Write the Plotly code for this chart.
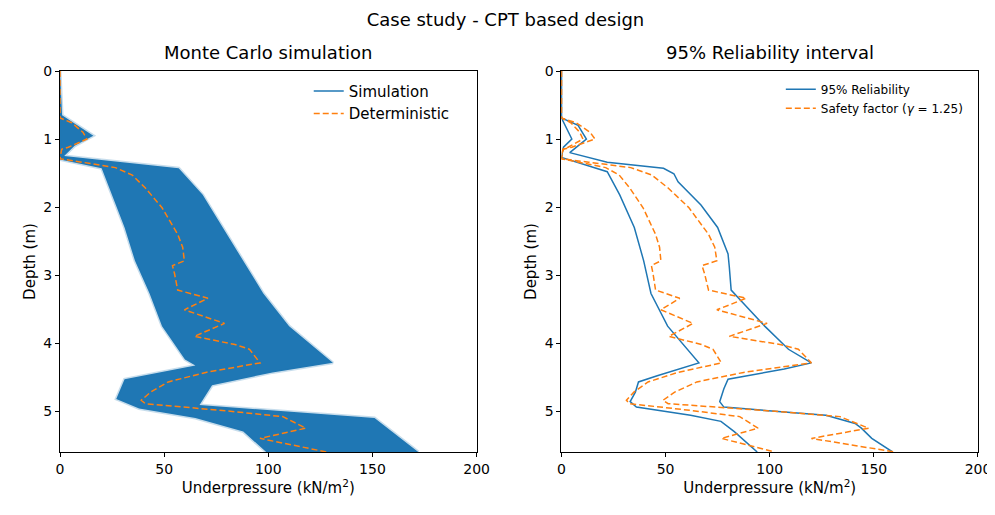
import numpy as np
import plotly.graph_objects as go
from plotly.subplots import make_subplots

BLUE = '#1f77b4'
ORANGE = '#ff7f0e'
GAMMA = 1.25

# deterministic underpressure profile (kN/m2) vs depth (m)
det_depth = [0, 0.65, 0.69, 0.76, 0.9, 1.0, 1.12, 1.15, 1.2, 1.29, 1.34, 1.42, 1.53, 1.72, 2.01,
             2.40, 2.59, 2.79, 2.86, 2.98, 3.22, 3.34, 3.51, 3.71, 3.90, 4.02, 4.09, 4.29, 4.43,
             4.57, 4.72, 4.84, 4.89, 4.99, 5.08, 5.25, 5.40, 5.60]
det_value = [0, 0, 0, 5.6, 11, 12.9, 4, 0.8, 0.5, 0, 10.5, 26.6, 34.7, 41, 49,
             56.5, 58.9, 59.7, 54, 55, 56.5, 71, 59.7, 79, 64.5, 84, 91, 96, 70,
             52, 43.5, 39, 41, 78, 107, 118, 96, 128]

# Monte Carlo band edges
sim_lo_depth = [0, 0.65, 1.0, 1.3, 1.43, 1.82, 2.3, 2.79, 3.27, 3.75, 4.24, 4.33, 4.53, 4.82, 4.96, 5.1, 5.3, 5.6]
sim_lo_value = [0, 0, 0, 0, 20, 25, 31, 36, 43, 49, 60, 65, 31, 27, 38, 65, 88, 99]
sim_hi_depth = [0, 0.65, 0.95, 1.1, 1.25, 1.43, 1.82, 2.3, 2.79, 3.27, 3.75, 4.29, 4.43, 4.62, 4.91, 5.1, 5.6]
sim_hi_value = [0, 1, 16, 7, 2, 57, 68.5, 78, 88, 97.6, 110, 131, 102, 73, 67, 151, 172]

# 95% reliability interval
rel_lo_depth = [0, 0.69, 1.0, 1.12, 1.27, 1.34, 1.48, 1.82, 2.3, 2.79, 3.27, 3.75, 4.09, 4.29, 4.48,
                4.57, 4.72, 4.86, 4.94, 5.06, 5.15, 5.3, 5.6]
rel_lo_value = [0, 0, 5, 1, 0, 7, 22, 28, 35, 39.5, 43, 51, 60.5, 66, 46,
                37, 35.5, 33, 36, 62, 76.6, 83, 94]
rel_hi_depth = [0, 0.69, 0.8, 1.0, 1.2, 1.34, 1.43, 1.51, 1.63, 1.97, 2.3, 2.69, 2.88, 3.22, 3.37,
                3.75, 4.09, 4.29, 4.38, 4.53, 4.67, 4.86, 4.94, 5.06, 5.18, 5.25, 5.4, 5.6]
rel_hi_value = [0, 0, 8, 12, 4, 22, 49, 54, 56, 67, 75, 80, 80.6, 81.5, 86,
                97.6, 109, 120, 107, 80, 78, 76, 78, 127, 141, 144, 149, 159]

fig = make_subplots(rows=1, cols=2, horizontal_spacing=85 / 920,
                    subplot_titles=['Monte Carlo simulation', '95% Reliability interval'])

band_x = np.concatenate([sim_lo_value, sim_hi_value[::-1]])
band_y = np.concatenate([sim_lo_depth, sim_hi_depth[::-1]])
fig.add_trace(go.Scatter(x=band_x, y=band_y, fill='toself', fillcolor=BLUE, mode='lines',
                         line=dict(color='rgba(31,119,180,0.25)', width=3), showlegend=False,
                         hoverinfo='skip'), 1, 1)
fig.add_trace(go.Scatter(x=[None], y=[None], mode='lines', name='Simulation',
                         line=dict(color=BLUE, width=1.5), legend='legend'), 1, 1)
fig.add_trace(go.Scatter(x=det_value, y=det_depth, mode='lines', name='Deterministic',
                         line=dict(color=ORANGE, width=1.5, dash='6px,3px'), legend='legend'), 1, 1)

fig.add_trace(go.Scatter(x=rel_lo_value, y=rel_lo_depth, mode='lines', name='95% Reliability',
                         line=dict(color=BLUE, width=1.5), legend='legend2'), 1, 2)
fig.add_trace(go.Scatter(x=rel_hi_value, y=rel_hi_depth, mode='lines', showlegend=False,
                         line=dict(color=BLUE, width=1.5)), 1, 2)
fig.add_trace(go.Scatter(x=np.array(det_value) / GAMMA, y=det_depth, mode='lines',
                         name='Safety factor (<i>γ</i> = 1.25)',
                         line=dict(color=ORANGE, width=1.5, dash='6px,3px'), legend='legend2'), 1, 2)
fig.add_trace(go.Scatter(x=np.array(det_value) * GAMMA, y=det_depth, mode='lines', showlegend=False,
                         line=dict(color=ORANGE, width=1.5, dash='6px,3px')), 1, 2)

axis_style = dict(showgrid=False, zeroline=False, showline=True, linecolor='black', linewidth=1,
                  mirror=True, ticks='outside', ticklen=4, tickcolor='black',
                  tickfont=dict(size=14, color='black'))
for c in (1, 2):
    fig.update_xaxes(range=[0, 200], dtick=50, title_text='Underpressure (kN/m<sup>2</sup>)',
                     title_font=dict(size=15, color='black'), title_standoff=6,
                     row=1, col=c, **axis_style)
    fig.update_yaxes(range=[5.6, 0], dtick=1, title_text='Depth (m)',
                     title_font=dict(size=15, color='black'), title_standoff=4,
                     row=1, col=c, **axis_style)

fig.update_annotations(font=dict(size=18, color='black'), yshift=6)

fig.update_layout(
    width=995, height=515,
    margin=dict(l=52, r=23, t=63, b=71),
    plot_bgcolor='white', paper_bgcolor='white',
    font=dict(family='DejaVu Sans', color='black'),
    title=dict(text='Case study - CPT based design', x=0.5, xanchor='center', y=0.99, yanchor='top',
               font=dict(size=18, color='black')),
    legend=dict(x=0.43, y=0.99, xanchor='right', yanchor='top', bgcolor='rgba(0,0,0,0)',
                font=dict(size=15), tracegroupgap=0),
    legend2=dict(x=0.99, y=0.99, xanchor='right', yanchor='top', bgcolor='rgba(0,0,0,0)',
                 font=dict(size=12), tracegroupgap=0),
)

fig.write_html('out.html')
